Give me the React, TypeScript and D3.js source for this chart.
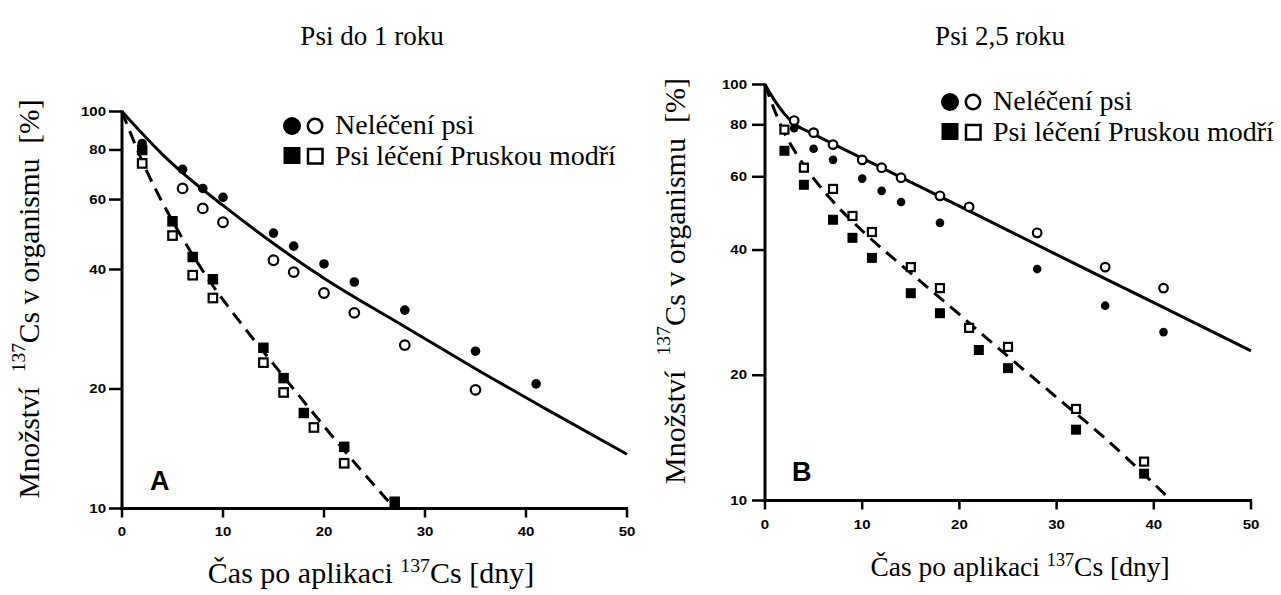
import React from 'react';
import * as d3 from 'd3';

type Pt = [number, number];

// Shared axes
const dayTicks = [0, 10, 20, 30, 40, 50];
const pctTicks = [10, 20, 40, 60, 80, 100];
const legendLabels = ['Neléčení psi', 'Psi léčení Pruskou modří'];

// Panel A – dogs up to 1 year (day, % of 137Cs retained)
const aUntreatedFilled: Pt[] = [[2, 83], [6, 71.5], [8, 64], [10, 60.8], [15, 49.4], [17, 45.8], [20, 41.3], [23, 37.2], [28, 31.6], [35, 24.9], [41, 20.6]];
const aUntreatedOpen: Pt[] = [[6, 64], [8, 57], [10, 52.6], [15, 42.2], [17, 39.4], [20, 34.9], [23, 31.1], [28, 25.8], [35, 19.9]];
const aTreatedFilled: Pt[] = [[2, 80], [5, 52.9], [7, 43], [9, 37.8], [14, 25.4], [16, 21.3], [18, 17.4], [22, 14.3], [27, 10.4]];
const aTreatedOpen: Pt[] = [[2, 74], [5, 48.7], [7, 38.7], [9, 33.9], [14, 23.3], [16, 19.6], [19, 16], [22, 13]];
const aUntreatedFit: Pt[] = [[0, 100], [2, 88], [4, 78], [6, 70], [10, 58], [15, 46.5], [20, 38], [28, 28.7], [35, 22.5], [42, 17.8], [50, 13.7]];
const aTreatedFit: Pt[] = [[0, 100], [2, 75], [5, 53], [7, 43.5], [9, 36.4], [12, 28.8], [15, 23.1], [18, 18.6], [22, 14], [27, 10]];

// Panel B – dogs 2.5 years old
const bUntreatedFilled: Pt[] = [[3, 78.5], [5, 70.1], [7, 65.9], [10, 59.4], [12, 55.5], [14, 52.2], [18, 46.5], [28, 36], [35, 29.4], [41, 25.4]];
const bUntreatedOpen: Pt[] = [[3, 81.9], [5, 76.6], [7, 71.7], [10, 65.9], [12, 63.1], [14, 59.7], [18, 54], [21, 50.8], [28, 44], [35, 36.4], [41, 32.4]];
const bTreatedFilled: Pt[] = [[2, 69.3], [4, 57.4], [7, 47.3], [9, 42.8], [11, 38.3], [15, 31.5], [18, 28.2], [22, 23], [25, 20.8], [32, 14.8], [39, 11.6]];
const bTreatedOpen: Pt[] = [[2, 77.9], [4, 63.1], [7, 56.1], [9, 48.3], [11, 44.2], [15, 36.4], [18, 32.4], [21, 26], [25, 23.4], [32, 16.6], [39, 12.4]];
const bUntreatedFit: Pt[] = [[0, 100], [1, 91.5], [2, 85], [3, 80.5], [5, 76], [10, 66.5], [20, 51], [30, 39], [40, 29.9], [50, 22.9]];
const bTreatedFit: Pt[] = [[0, 100], [1, 86.5], [2, 76.5], [3, 69.5], [5, 59.5], [7, 52.3], [10, 44.5], [15, 35.2], [20, 28], [25, 22.2], [30, 17.7], [35, 14.1], [41.8, 10]];

const SERIF = '"Liberation Serif", "Times New Roman", serif';
const SANS = '"Liberation Sans", Arial, sans-serif';

type PanelProps = {
  x0: number; x1: number; yTop: number; yBot: number;
  title: string; titleX: number; titleY: number;
  letter: string; letterX: number; letterY: number;
  yTitleX: number; yTitleY: number; yTitleSize: number;
  xTitleX: number; xTitleY: number; xTitleSize: number;
  legendX: number; legendY: number;
  xLabelY: number; yLabelRight: number;
  dotR: number; sq: number;
  untreatedFilled: Pt[]; untreatedOpen: Pt[];
  treatedFilled: Pt[]; treatedOpen: Pt[];
  untreatedFit: Pt[]; treatedFit: Pt[];
};

function Panel(p: PanelProps) {
  const x = d3.scaleLinear().domain([0, 50]).range([p.x0, p.x1]);
  const y = d3.scaleLog().domain([10, 100]).range([p.yBot, p.yTop]);
  const line = d3.line<Pt>().x(d => x(d[0])).y(d => y(d[1])).curve(d3.curveMonotoneX);

  return (
    <g>
      <text x={p.titleX} y={p.titleY} textAnchor="middle" fontFamily={SERIF} fontSize={27}>{p.title}</text>

      {/* axes */}
      <line x1={p.x0} x2={p.x0} y1={p.yTop - 1} y2={p.yBot + 1.5} stroke="#000" strokeWidth={3} />
      <line x1={p.x0 - 1.5} x2={p.x1 + 1} y1={p.yBot} y2={p.yBot} stroke="#000" strokeWidth={3} />
      {pctTicks.map(t => (
        <g key={'y' + t}>
          <line x1={p.x0 - 13} x2={p.x0} y1={y(t)} y2={y(t)} stroke="#000" strokeWidth={2.5} />
          <text transform={`translate(${p.yLabelRight},${y(t)}) scale(1.2,1)`} textAnchor="end" dominantBaseline="central"
            fontFamily={SANS} fontWeight={700} fontSize={12.5}>{t}</text>
        </g>
      ))}
      {dayTicks.map(t => (
        <g key={'x' + t}>
          <line x1={x(t)} x2={x(t)} y1={p.yBot} y2={p.yBot + 9} stroke="#000" strokeWidth={2.5} />
          <text transform={`translate(${x(t)},${p.xLabelY}) scale(1.2,1)`} textAnchor="middle" dominantBaseline="central"
            fontFamily={SANS} fontWeight={700} fontSize={12.5}>{t}</text>
        </g>
      ))}

      {/* fitted retention curves */}
      <path d={line(p.untreatedFit) ?? ''} fill="none" stroke="#000" strokeWidth={3} />
      <path d={line(p.treatedFit) ?? ''} fill="none" stroke="#000" strokeWidth={3} strokeDasharray="13 8" />

      {/* measurements */}
      {p.untreatedFilled.map((d, i) => (
        <circle key={'uf' + i} cx={x(d[0])} cy={y(d[1])} r={p.dotR} fill="#000" />
      ))}
      {p.untreatedOpen.map((d, i) => (
        <circle key={'uo' + i} cx={x(d[0])} cy={y(d[1])} r={p.dotR} fill="#fff" stroke="#000" strokeWidth={2.2} />
      ))}
      {p.treatedFilled.map((d, i) => (
        <rect key={'tf' + i} x={x(d[0]) - p.sq / 2} y={y(d[1]) - p.sq / 2} width={p.sq} height={p.sq} fill="#000" />
      ))}
      {p.treatedOpen.map((d, i) => (
        <rect key={'to' + i} x={x(d[0]) - p.sq / 2 + 1} y={y(d[1]) - p.sq / 2 + 1} width={p.sq - 2} height={p.sq - 2}
          fill="#fff" stroke="#000" strokeWidth={2.2} />
      ))}

      <text x={p.letterX} y={p.letterY} fontFamily={SANS} fontWeight={700} fontSize={27}>{p.letter}</text>

      {/* legend */}
      <g transform={`translate(${p.legendX},${p.legendY})`}>
        <circle cx={0} cy={0} r={9} fill="#000" />
        <circle cx={23} cy={0} r={7.2} fill="#fff" stroke="#000" strokeWidth={2.5} />
        <text x={43} y={8} fontFamily={SERIF} fontSize={28}>{legendLabels[0]}</text>
        <rect x={-8.5} y={21} width={17} height={17} fill="#000" />
        <rect x={16} y={23} width={14.5} height={14.5} fill="#fff" stroke="#000" strokeWidth={2.5} />
        <text x={43} y={39} fontFamily={SERIF} fontSize={28}>{legendLabels[1]}</text>
      </g>

      {/* axis titles */}
      <text transform={`translate(${p.yTitleX},${p.yTitleY}) rotate(-90)`} textAnchor="middle" dominantBaseline="central"
        fontFamily={SERIF} fontSize={p.yTitleSize} style={{ whiteSpace: 'pre' }}>
        <tspan>{'Množství  '}</tspan>
        <tspan fontSize={p.yTitleSize * 0.66} dy={-p.yTitleSize * 0.38}>137</tspan>
        <tspan dy={p.yTitleSize * 0.38}>{'Cs v organismu  [%]'}</tspan>
      </text>
      <text x={p.xTitleX} y={p.xTitleY} textAnchor="middle" fontFamily={SERIF} fontSize={p.xTitleSize} style={{ whiteSpace: 'pre' }}>
        <tspan>{'Čas po aplikaci '}</tspan>
        <tspan fontSize={p.xTitleSize * 0.66} dy={-p.xTitleSize * 0.38}>137</tspan>
        <tspan dy={p.xTitleSize * 0.38}>{'Cs [dny]'}</tspan>
      </text>
    </g>
  );
}

export default function App() {
  return (
    <svg width={1281} height={595} viewBox="0 0 1281 595"
      style={{ position: 'absolute', left: 0, top: 0, background: '#fff' }}>
      <rect width={1281} height={595} fill="#fff" />
      <Panel
        x0={122} x1={627} yTop={111.5} yBot={508.5}
        title="Psi do 1 roku" titleX={372} titleY={45}
        letter="A" letterX={150} letterY={490}
        yTitleX={29} yTitleY={299} yTitleSize={29.5}
        xTitleX={371} xTitleY={583} xTitleSize={30}
        legendX={292} legendY={126}
        xLabelY={532} yLabelRight={106}
        dotR={4.8} sq={10.5}
        untreatedFilled={aUntreatedFilled} untreatedOpen={aUntreatedOpen}
        treatedFilled={aTreatedFilled} treatedOpen={aTreatedOpen}
        untreatedFit={aUntreatedFit} treatedFit={aTreatedFit}
      />
      <Panel
        x0={765} x1={1251} yTop={84.5} yBot={500.5}
        title="Psi 2,5 roku" titleX={1000} titleY={45}
        letter="B" letterX={792} letterY={481}
        yTitleX={674} yTitleY={281} yTitleSize={30}
        xTitleX={1020} xTitleY={576} xTitleSize={27.5}
        legendX={950} legendY={102}
        xLabelY={525} yLabelRight={747}
        dotR={4.3} sq={10}
        untreatedFilled={bUntreatedFilled} untreatedOpen={bUntreatedOpen}
        treatedFilled={bTreatedFilled} treatedOpen={bTreatedOpen}
        untreatedFit={bUntreatedFit} treatedFit={bTreatedFit}
      />
    </svg>
  );
}
